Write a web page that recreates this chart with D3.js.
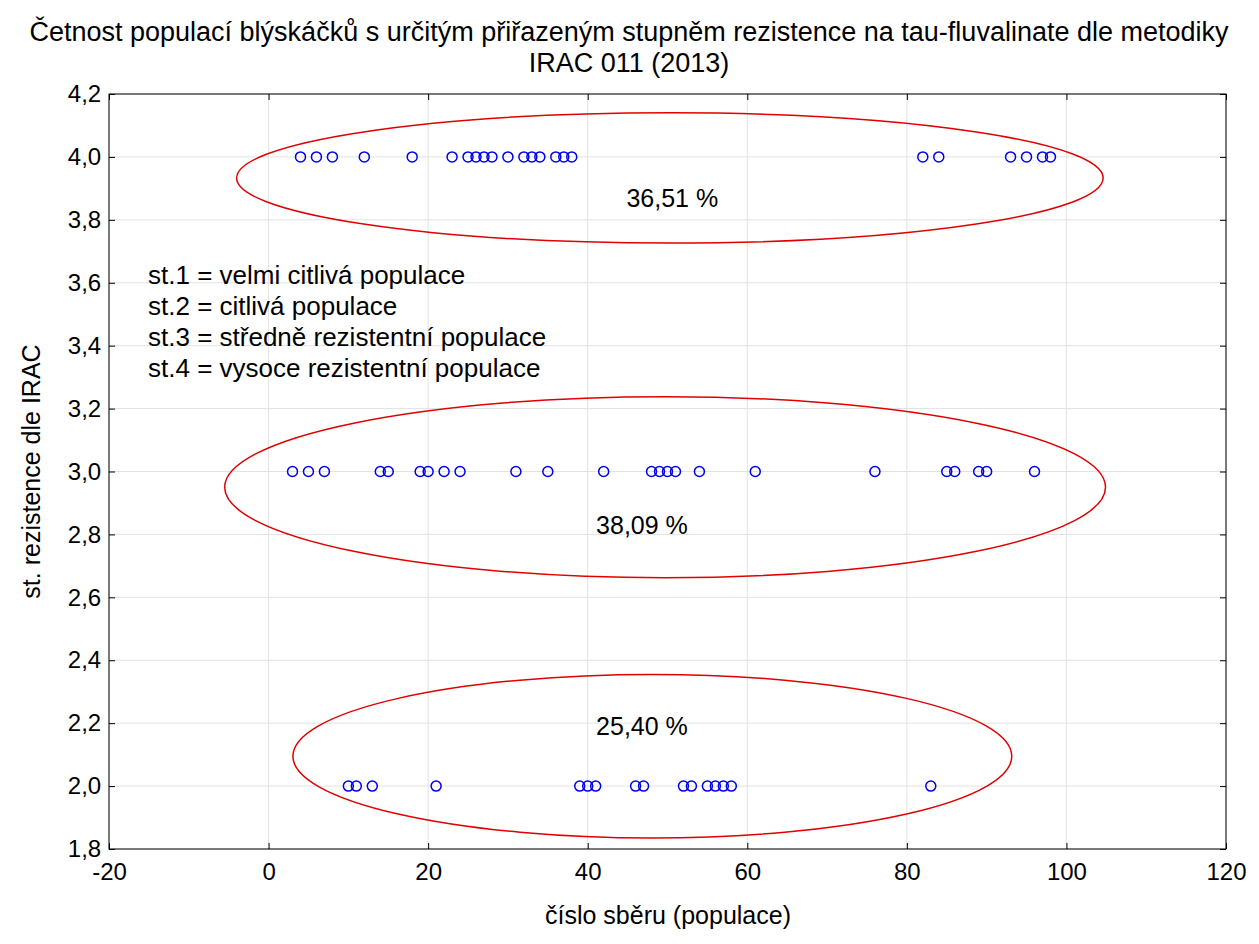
<!DOCTYPE html><html><head><meta charset="utf-8"><script src="https://cdn.jsdelivr.net/npm/d3@7"></script>
<style>body{margin:0;background:#fff}svg{font-family:"Liberation Sans",Arial,sans-serif}</style></head><body><svg id="c" width="1259" height="944"></svg><script>
const level4=[4,6,8,12,18,23,25,26,27,28,30,32,33,34,36,37,38,82,84,93,95,97,98];
const level3=[3,5,7,14,15,19,20,22,24,31,35,42,48,49,50,51,54,61,76,85,86,89,90,96];
const level2=[10,11,13,21,39,40,41,46,47,52,53,55,56,57,58,83];
const ellipses=[{cx:50.3,cy:3.933,rx:54.3,ry:0.207,label:"36,51 %",lx:50.6,ly:3.87},
{cx:49.7,cy:2.95,rx:55.2,ry:0.288,label:"38,09 %",lx:46.8,ly:2.83},
{cx:48.1,cy:2.095,rx:45.05,ry:0.26,label:"25,40 %",lx:46.8,ly:2.19}];
const legend=["st.1 = velmi citlivá populace","st.2 = citlivá populace","st.3 = středně rezistentní populace","st.4 = vysoce rezistentní populace"];
const xTicks=[-20,0,20,40,60,80,100,120];
const yTicks=[1.8,2.0,2.2,2.4,2.6,2.8,3.0,3.2,3.4,3.6,3.8,4.0,4.2];
const svg=d3.select("#c");
const L=109,R=1226,T=94,B=849;
const x=d3.scaleLinear().domain([-20,120]).range([L,R]);
const y=d3.scaleLinear().domain([1.8,4.2]).range([B,T]);
const fmt=d=>d.toFixed(1).replace(".",",");
svg.append("g").selectAll("line").data(xTicks).join("line").attr("x1",d=>x(d)).attr("x2",d=>x(d)).attr("y1",T).attr("y2",B).attr("stroke","#e2e2e2");
svg.append("g").selectAll("line").data(yTicks).join("line").attr("y1",d=>y(d)).attr("y2",d=>y(d)).attr("x1",L).attr("x2",R).attr("stroke","#e2e2e2");
svg.append("rect").attr("x",L).attr("y",T).attr("width",R-L).attr("height",B-T).attr("fill","none").attr("stroke","#000");
svg.append("g").attr("transform",`translate(0,${B})`).call(d3.axisBottom(x).tickValues(xTicks).tickSize(-6).tickFormat(d=>d).tickSizeOuter(0))
 .call(g=>{g.select(".domain").remove();g.selectAll("text").attr("font-size",24).attr("dy","1.15em").attr("fill","#000");});
svg.append("g").attr("transform",`translate(${L},0)`).call(d3.axisLeft(y).tickValues(yTicks).tickSize(-6).tickFormat(fmt).tickSizeOuter(0))
 .call(g=>{g.select(".domain").remove();g.selectAll("text").attr("font-size",24).attr("dx","-0.2em").attr("fill","#000");});
svg.append("g").attr("transform",`translate(0,${T})`).call(d3.axisTop(x).tickValues(xTicks).tickSize(-6).tickFormat("")).call(g=>g.select(".domain").remove());
svg.append("g").attr("transform",`translate(${R},0)`).call(d3.axisRight(y).tickValues(yTicks).tickSize(-6).tickFormat("")).call(g=>g.select(".domain").remove());
ellipses.forEach(e=>{
 svg.append("ellipse").attr("cx",x(e.cx)).attr("cy",y(e.cy)).attr("rx",x(e.cx+e.rx)-x(e.cx)).attr("ry",y(e.cy)-y(e.cy+e.ry)).attr("fill","none").attr("stroke","#e00000").attr("stroke-width",1.5);
 svg.append("text").attr("x",x(e.lx)).attr("y",y(e.ly)).attr("text-anchor","middle").attr("font-size",25).attr("dy","0.35em").text(e.label);
});
[[level4,4],[level3,3],[level2,2]].forEach(([arr,v])=>{
 svg.append("g").selectAll("circle").data(arr).join("circle").attr("cx",d=>x(d)).attr("cy",y(v)).attr("r",5).attr("fill","none").attr("stroke","#0000ee").attr("stroke-width",1.5);
});
svg.append("g").selectAll("text").data(legend).join("text").attr("x",148).attr("y",(d,i)=>284+i*31).attr("font-size",26).attr("textLength",null).text(d=>d);
svg.append("text").attr("x",629).attr("y",41).attr("text-anchor","middle").attr("font-size",27).text("Četnost populací blýskáčků s určitým přiřazeným stupněm rezistence na tau-fluvalinate dle metodiky");
svg.append("text").attr("x",629).attr("y",72).attr("text-anchor","middle").attr("font-size",27).text("IRAC 011 (2013)");
svg.append("text").attr("x",668).attr("y",924).attr("text-anchor","middle").attr("font-size",25).text("číslo sběru (populace)");
svg.append("text").attr("transform",`translate(40,${(T+B)/2}) rotate(-90)`).attr("text-anchor","middle").attr("font-size",25).text("st. rezistence dle IRAC");
</script></body></html>
